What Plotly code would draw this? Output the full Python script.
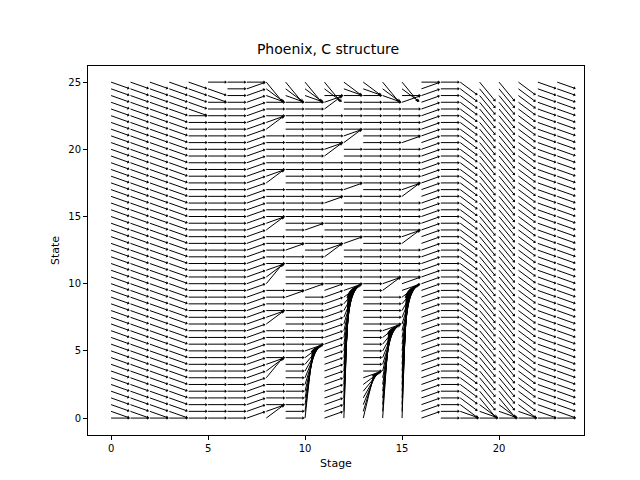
import numpy as np
import plotly.graph_objects as go

# next-state move per stage, in rows of 0.5 state, listed as runs (count, move) from state 0 upwards
stage_runs = [
    [(1, 0), (50, -1)],
    [(1, 0), (50, -1)],
    [(1, 0), (50, -1)],
    [(1, 0), (50, -1)],
    [(46, 0), (5, -1)],
    [(48, 0), (2, -1), (1, 0)],
    [(51, 0)],
    [(50, 1), (1, 0)],
    [(1, 2), (1, 1), (4, 0), (1, 3), (1, 2), (1, 1), (5, 0), (1, 2), (1, 1), (4, 0), (1, 3), (1, 2), (1, 1),
     (5, 0), (1, 2), (1, 1), (5, 0), (1, 2), (1, 1), (6, 0), (1, 2), (1, 1), (3, 0), (1, -1), (1, -2), (1, -3)],
    [(18, 0), (1, 1), (6, 0), (1, 1), (22, 0), (1, -1), (1, -2), (1, -3)],
    [(1, 11), (1, 10), (1, 9), (1, 8), (1, 7), (1, 6), (1, 5), (1, 4), (1, 3), (1, 2), (1, 1),
     (8, 0), (1, 1), (8, 0), (1, 1), (19, 0), (1, -1), (1, -2), (1, -3)],
    [(20, 1), (4, 0), (1, 2), (1, 1), (6, 0), (1, 1), (6, 0), (1, 2), (1, 1), (5, 0), (1, 2), (1, 1),
     (1, 0), (1, -2), (1, -3)],
    [(1, 20), (1, 19), (1, 18), (1, 17), (1, 16), (1, 15), (1, 14), (1, 13), (1, 12), (1, 11), (1, 10),
     (1, 9), (1, 8), (1, 7), (1, 6), (1, 5), (1, 4), (1, 3), (1, 2), (1, 1),
     (6, 0), (1, 1), (7, 0), (1, 1), (6, 0), (1, 2), (1, 1), (6, 0), (1, -1), (1, -2)],
    [(1, 7), (1, 6), (1, 5), (1, 4), (1, 3), (1, 2), (1, 1), (42, 0), (1, -1), (1, -2)],
    [(1, 14), (1, 13), (1, 12), (1, 11), (1, 10), (1, 9), (1, 8), (1, 7), (1, 6), (1, 5), (1, 4),
     (1, 3), (1, 2), (1, 1), (5, 0), (1, 2), (1, 1), (27, 0), (1, -1), (1, -2), (1, -3)],
    [(1, 20), (1, 19), (1, 18), (1, 17), (1, 16), (1, 15), (1, 14), (1, 13), (1, 12), (1, 11), (1, 10),
     (1, 9), (1, 8), (1, 7), (1, 6), (1, 5), (1, 4), (1, 3), (1, 2), (1, 1),
     (1, 1), (5, 0), (1, 2), (1, 1), (5, 0), (1, 2), (1, 1), (6, 0), (1, 1), (5, 0), (1, 1), (1, 0),
     (1, -2), (1, -3)],
    [(50, 1), (1, 0)],
    [(51, 0)],
    [(1, 0), (1, -1), (49, -2)],
    [(1, 0), (1, -1), (1, -2), (48, -3)],
    [(1, 0), (1, -1), (1, -2), (48, -3)],
    [(1, 0), (1, -1), (49, -2)],
    [(1, 0), (50, -1)],
    [(1, 0), (50, -1)],
]

states = np.arange(51) * 0.5
stages = np.arange(len(stage_runs))

# pixel scale of the axes, used only to orient the arrow heads
px_x, px_y = 19.4, 13.44

sx, sy, hx, hy, ha = [], [], [], [], []
for t, runs in zip(stages, stage_runs):
    moves = [m for n, m in runs for _ in range(n)]
    for s, m in zip(states, moves):
        dy = m * 0.5 * 0.9
        dx = 0.9 / np.sqrt(1 + (m / 5) ** 2)
        sx += [t, t + dx, None]
        sy += [s, s + dy, None]
        hx.append(t + dx)
        hy.append(s + dy)
        ha.append(np.degrees(np.arctan2(dx * px_x, dy * px_y)))

fig = go.Figure()
fig.add_trace(go.Scatter(x=sx, y=sy, mode="lines", line=dict(color="black", width=1),
                         hoverinfo="skip", showlegend=False))
fig.add_trace(go.Scatter(x=hx, y=hy, mode="markers", showlegend=False,
                         marker=dict(symbol="triangle-up", size=3, color="black", angle=ha)))

axis = dict(showgrid=False, zeroline=False, showline=True, mirror=True, linecolor="black",
            ticks="outside", ticklen=4, tickcolor="black", tickfont=dict(size=10, color="black"),
            automargin=False)
fig.update_xaxes(axis, range=[-1.19, 24.38], tickvals=[0, 5, 10, 15, 20],
                 title=dict(text="Stage", font=dict(size=11, color="black"), standoff=6))
fig.update_yaxes(axis, range=[-1.26, 26.2], tickvals=[0, 5, 10, 15, 20, 25],
                 title=dict(text="State", font=dict(size=11, color="black"), standoff=6))
fig.update_layout(
    width=640, height=480,
    margin=dict(l=80, r=64, t=58, b=53, autoexpand=False),
    title=dict(text="Phoenix, C structure", x=0.5, xanchor="center", y=0.925,
               font=dict(size=14, color="black")),
    font=dict(family="DejaVu Sans"),
    plot_bgcolor="white", paper_bgcolor="white",
)

fig.write_html("out.html")
